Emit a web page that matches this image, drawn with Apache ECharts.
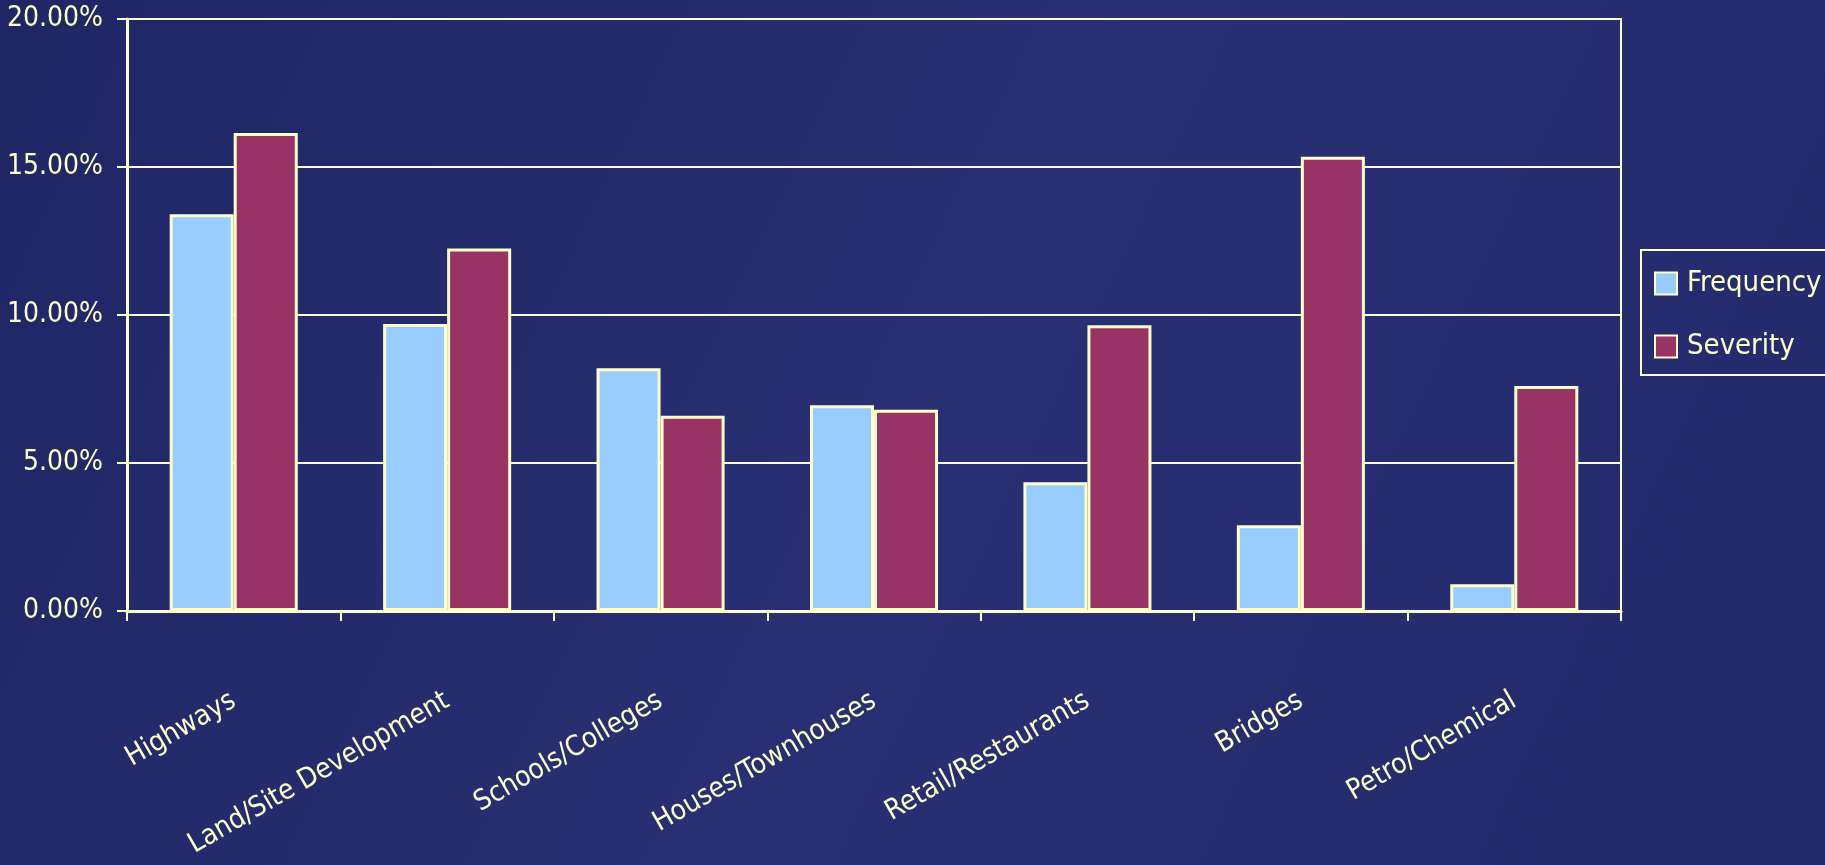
<!DOCTYPE html>
<html>
<head>
<meta charset="utf-8">
<script src="https://cdn.jsdelivr.net/npm/echarts@6/dist/echarts.min.js"></script>
<style>
  html, body { margin: 0; padding: 0; }
  body { background: #232a6b; }
  #chart { width: 1825px; height: 865px; }
</style>
</head>
<body>
<div id="chart"></div>
<script>
// Share of claims by project type
const categories = [
  'Highways', 'Land/Site Development', 'Schools/Colleges', 'Houses/Townhouses',
  'Retail/Restaurants', 'Bridges', 'Petro/Chemical'
];
const frequency = [13.4, 9.7, 8.2, 6.95, 4.35, 2.9, 0.9];
const severity  = [16.15, 12.25, 6.6, 6.8, 9.65, 15.35, 7.6];
const seriesNames = ['Frequency', 'Severity'];

const CREAM = '#ffffcc';
const FONT = '"Liberation Sans Narrow", "DejaVu Sans Condensed", "Liberation Sans", sans-serif';

const chart = echarts.init(document.getElementById('chart'));
chart.setOption({
  backgroundColor: {
    type: 'linear', x: 0, y: 0, x2: 1, y2: 1,
    colorStops: [
      { offset: 0, color: '#1f2664' },
      { offset: 0.5, color: '#283073' },
      { offset: 1, color: '#232a6c' }
    ]
  },
  textStyle: { fontFamily: FONT },
  grid: {
    left: 127, right: 204, top: 19, bottom: 254,
    outerBoundsMode: 'none',
    show: true, borderColor: CREAM, borderWidth: 2, backgroundColor: 'transparent'
  },
  legend: {
    orient: 'vertical',
    left: 1641, top: 250,
    padding: [19, 6, 14, 13],
    itemWidth: 22, itemHeight: 22, itemGap: 34,
    borderColor: CREAM, borderWidth: 2,
    icon: 'rect',
    textStyle: { color: CREAM, fontSize: 29, fontFamily: FONT, padding: [0, 0, 0, 5] },
    data: seriesNames
  },
  xAxis: {
    type: 'category',
    data: categories,
    axisLine: { lineStyle: { color: CREAM, width: 3 } },
    axisTick: { show: true, length: 10, lineStyle: { color: CREAM, width: 2 } },
    axisLabel: {
      color: CREAM, fontSize: 28, fontFamily: FONT,
      rotate: 30, margin: 88, interval: 0
    }
  },
  yAxis: {
    type: 'value',
    min: 0, max: 20, interval: 5,
    axisLine: { show: true, lineStyle: { color: CREAM, width: 3 } },
    axisTick: { show: true, length: 10, lineStyle: { color: CREAM, width: 2 } },
    splitLine: { show: true, lineStyle: { color: CREAM, width: 2 } },
    axisLabel: {
      color: CREAM, fontSize: 28, fontFamily: FONT, margin: 24,
      formatter: v => v.toFixed(2) + '%'
    }
  },
  series: [
    {
      name: seriesNames[0], type: 'bar', data: frequency,
      barGap: '0%', barCategoryGap: '40%',
      itemStyle: { color: '#99ccff', borderColor: CREAM, borderWidth: 3 }
    },
    {
      name: seriesNames[1], type: 'bar', data: severity,
      itemStyle: { color: '#993366', borderColor: CREAM, borderWidth: 3 }
    }
  ]
});
</script>
</body>
</html>
